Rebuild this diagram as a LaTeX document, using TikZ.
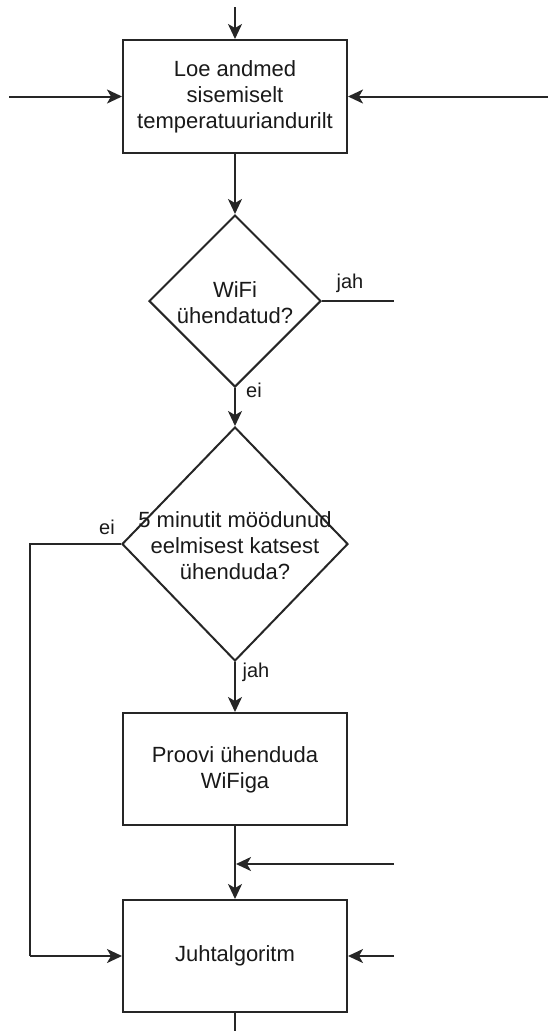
\documentclass[tikz,border=0pt]{standalone}
\usepackage{fontspec}
\setmainfont{Liberation Sans}
\usetikzlibrary{shapes.geometric,arrows.meta}
\begin{document}
\begin{tikzpicture}[x=1pt,y=-1pt,
  line width=2pt,
  flow/.style={draw=black!85, line width=2pt},
  arr/.style={flow, -{Stealth[length=15pt,width=14pt,inset=4pt]}},
  procbox/.style={draw=black!85, line width=2pt, rectangle, minimum width=224pt, minimum height=113pt, inner sep=0pt},
  decbox/.style={draw=black!85, line width=2pt, diamond, inner sep=0pt},
  txt/.style={align=center, font=\fontsize{22}{26}\selectfont, text=black!90},
  lbl/.style={font=\fontsize{20}{24}\selectfont, text=black!90, inner sep=0pt}
]
\useasboundingbox (0,0) rectangle (548,1031);

% nodes
\node[procbox] (b1) at (235,96.5) {};
\node[txt] (t1) at (235,97) {Loe andmed\\sisemiselt\\temperatuuriandurilt};

\node[decbox, minimum width=172pt, minimum height=172pt] (d1) at (235,301) {};
\node[txt] (t2) at (235,303) {WiFi\\ühendatud?};

\node[decbox, minimum width=226pt, minimum height=234pt] (d2) at (235,544) {};
\node[txt] (t3) at (235,546) {5 minutit möödunud\\eelmisest katsest\\ühenduda?};

\node[procbox, minimum height=112pt] (b2) at (235,769) {};
\node[txt] (t4) at (235,770) {Proovi ühenduda\\WiFiga};

\node[procbox, minimum height=112pt] (b3) at (235,956) {};
\node[txt] (t5) at (235,956) {Juhtalgoritm};

% free ends
\coordinate (topin) at (235,7);
\coordinate (leftin) at (9,96.5);
\coordinate (rightin) at (548,96.5);
\coordinate (jahend) at (394,301);
\coordinate (eileft) at (30,544);
\coordinate (eidown) at (30,956);
\coordinate (mid) at (235,864);
\coordinate (midin) at (394,864);
\coordinate (b3in) at (394,956);
\coordinate (bottom) at (235,1031);

% connectors
\draw[arr] (topin) -- (b1.north);
\draw[arr] (leftin) -- (b1.west);
\draw[arr] (rightin) -- (b1.east);
\draw[arr] (b1.south) -- (d1.north);
\draw[flow] (d1.east) -- (jahend);
\draw[arr] (d1.south) -- (d2.north);
\draw[flow] (d2.west) -- (eileft) -- (eidown);
\draw[arr] (eidown) -- (b3.west);
\draw[arr] (d2.south) -- (b2.north);
\draw[arr] (b2.south) -- (b3.north);
\draw[arr] (midin) -- ([xshift=1pt]mid);
\draw[arr] (b3in) -- (b3.east);
\draw[flow] (b3.south) -- (bottom);

% labels
\node[lbl] (l1) at (350,283) {jah};
\node[lbl] (l2) at (254,390) {ei};
\node[lbl] (l3) at (107,527) {ei};
\node[lbl] (l4) at (256,672) {jah};
\end{tikzpicture}
\end{document}
